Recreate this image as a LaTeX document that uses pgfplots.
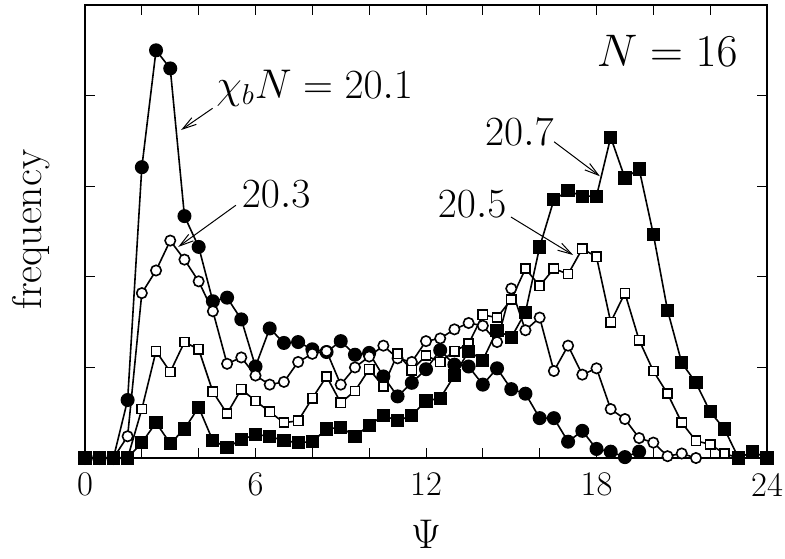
\documentclass[border=0pt]{standalone}
\usepackage{pgfplots}
\pgfplotsset{compat=1.18}
\usetikzlibrary{arrows.meta}
\begin{document}
\begin{tikzpicture}
\useasboundingbox (-42.5pt,-50pt) rectangle (350pt,229pt);
\begin{axis}[
  at={(0,0)}, anchor=south west,
  scale only axis, width=341pt, height=226.5pt,
  xmin=0, xmax=24, ymin=0, ymax=5,
  xtick={0,2,...,24}, xticklabels={0,,,6,,,12,,,18,,,24},
  ytick={1,2,3,4}, yticklabels={},
  tick align=inside, xtick pos=both, ytick pos=both,
  major tick length=5pt,
  axis line style={line width=0.7pt},
  every tick/.style={black, line width=0.5pt},
  xticklabel style={font=\LARGE, yshift=-4pt},
  clip=false,
]
% chi_b N = 20.1 (filled circles)
\addplot[black, line width=0.8pt, mark=*, mark size=3.1pt, mark options={solid, fill=black}] coordinates {
(0,0)(0.5,0)(1,0)(1.5,0.64)(2,3.21)(2.5,4.50)(3,4.30)(3.5,2.67)(4,2.33)(4.5,1.73)(5,1.77)(5.5,1.53)(6,1.01)(6.5,1.43)(7,1.27)(7.5,1.28)(8,1.20)(8.5,1.17)(9,1.29)(9.5,1.14)(10,1.16)(10.5,0.90)(11,0.68)(11.5,0.83)(12,0.98)(12.5,1.19)(13,1.03)(13.5,1.01)(14,0.81)(14.5,0.99)(15,0.76)(15.5,0.71)(16,0.44)(16.5,0.44)(17,0.18)(17.5,0.30)(18,0.10)(18.5,0.07)(19,0.01)(19.5,0.07)
};
% 20.3 (open circles)
\addplot[black, line width=0.8pt, mark=*, mark size=2.6pt, mark options={solid, fill=white}] coordinates {
(0,0)(0.5,0)(1,0)(1.5,0.24)(2,1.82)(2.5,2.07)(3,2.40)(3.5,2.19)(4,1.95)(4.5,1.62)(5,1.04)(5.5,1.11)(6,0.91)(6.5,0.81)(7,0.84)(7.5,1.06)(8,1.15)(8.5,1.18)(9,0.81)(9.5,1.00)(10,1.12)(10.5,1.24)(11,1.10)(11.5,1.06)(12,1.29)(12.5,1.32)(13,1.42)(13.5,1.49)(14,1.46)(14.5,1.28)(15,1.87)(15.5,1.41)(16,1.55)(16.5,0.96)(17,1.24)(17.5,0.92)(18,0.99)(18.5,0.54)(19,0.43)(19.5,0.22)(20,0.17)(20.5,0.02)(21,0.05)(21.5,0)
};
% 20.5 (open squares)
\addplot[black, line width=0.8pt, mark=square*, mark size=2.3pt, mark options={solid, fill=white}] coordinates {
(0,0)(0.5,0)(1,0)(1.5,0)(2,0.54)(2.5,1.18)(3,0.95)(3.5,1.28)(4,1.20)(4.5,0.73)(5,0.49)(5.5,0.76)(6,0.63)(6.5,0.51)(7,0.39)(7.5,0.41)(8,0.66)(8.5,0.90)(9,0.61)(9.5,0.74)(10,0.98)(10.5,0.79)(11,1.15)(11.5,0.97)(12,1.13)(12.5,1.06)(13,1.18)(13.5,1.26)(14,1.58)(14.5,1.55)(15,1.75)(15.5,2.09)(16,1.90)(16.5,2.09)(17,2.03)(17.5,2.31)(18,2.22)(18.5,1.50)(19,1.82)(19.5,1.30)(20,0.96)(20.5,0.71)(21,0.39)(21.5,0.19)(22,0.15)(22.5,0.05)(23,0)
};
% 20.7 (filled squares)
\addplot[black, line width=0.8pt, mark=square*, mark size=2.9pt, mark options={solid, fill=black}] coordinates {
(0,0)(0.5,0)(1,0)(1.5,0)(2,0.17)(2.5,0.39)(3,0.16)(3.5,0.32)(4,0.56)(4.5,0.19)(5,0.12)(5.5,0.20)(6,0.26)(6.5,0.24)(7,0.19)(7.5,0.17)(8,0.18)(8.5,0.32)(9,0.34)(9.5,0.24)(10,0.36)(10.5,0.47)(11,0.41)(11.5,0.47)(12,0.63)(12.5,0.66)(13,0.91)(13.5,1.18)(14,1.08)(14.5,1.41)(15,1.33)(15.5,1.61)(16,2.33)(16.5,2.85)(17,2.95)(17.5,2.89)(18,2.89)(18.5,3.54)(19,3.09)(19.5,3.19)(20,2.47)(20.5,1.63)(21,1.05)(21.5,0.83)(22,0.51)(22.5,0.32)(23,0)(23.5,0.07)(24,0)
};
% annotations
\node[anchor=base west, font=\huge, inner sep=0pt] at (axis cs:4.61,3.97) {$\chi_b N = 20.1$};
\node[anchor=base west, font=\huge, inner sep=0pt] at (axis cs:5.51,2.76) {$20.3$};
\node[anchor=base west, font=\huge, inner sep=0pt] at (axis cs:14.07,3.45) {$20.7$};
\node[anchor=base east, font=\huge, inner sep=0pt] at (axis cs:14.84,2.66) {$20.5$};
\node[anchor=base east, font=\huge, inner sep=0pt, scale=1.1] at (axis cs:22.98,4.32) {$N = 16$};
\draw[line width=0.5pt, -{Straight Barb[length=7pt,width=4pt]}] (axis cs:4.49,3.86) -- (axis cs:3.38,3.62);
\draw[line width=0.5pt, -{Straight Barb[length=7pt,width=4pt]}] (axis cs:5.31,2.79) -- (axis cs:3.28,2.33);
\draw[line width=0.5pt, -{Straight Barb[length=7pt,width=4pt]}] (axis cs:16.51,3.49) -- (axis cs:18.12,3.11);
\draw[line width=0.5pt, -{Straight Barb[length=7pt,width=4pt]}] (axis cs:14.99,2.66) -- (axis cs:17.18,2.24);
% axis labels
\node[font=\huge, inner sep=0pt] at ([yshift=-38pt]rel axis cs:0.5,0) {$\Psi$};
\node[font=\huge, rotate=90, inner sep=0pt] at ([xshift=-27pt, yshift=1pt]rel axis cs:0,0.5) {frequency};
\end{axis}
\end{tikzpicture}
\end{document}
